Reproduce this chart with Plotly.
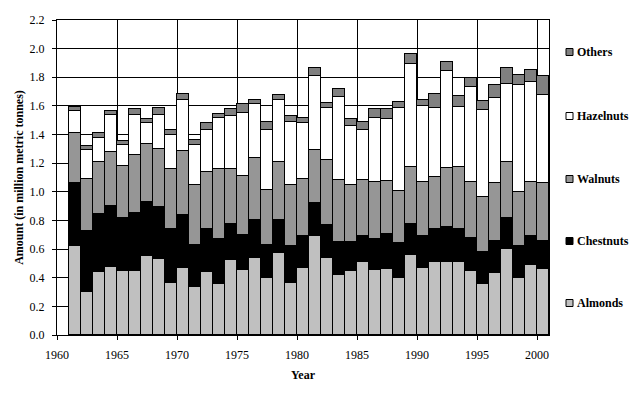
import plotly.graph_objects as go

years = list(range(1961, 2001))

almonds = [0.620, 0.298, 0.438, 0.473, 0.445, 0.445, 0.550, 0.529, 0.361, 0.466,
           0.333, 0.438, 0.354, 0.522, 0.452, 0.536, 0.396, 0.571, 0.361, 0.466,
           0.690, 0.536, 0.417, 0.445, 0.508, 0.452, 0.459, 0.396, 0.557, 0.466,
           0.508, 0.508, 0.508, 0.445, 0.354, 0.431, 0.599, 0.396, 0.487, 0.459]
chestnuts = [0.440, 0.427, 0.406, 0.427, 0.371, 0.406, 0.378, 0.364, 0.378, 0.371,
             0.294, 0.301, 0.315, 0.252, 0.245, 0.266, 0.231, 0.231, 0.259, 0.224,
             0.231, 0.231, 0.231, 0.203, 0.182, 0.217, 0.245, 0.245, 0.217, 0.224,
             0.231, 0.245, 0.231, 0.231, 0.224, 0.224, 0.217, 0.224, 0.203, 0.196]
walnuts = [0.348, 0.368, 0.361, 0.375, 0.361, 0.403, 0.403, 0.403, 0.417, 0.445,
           0.424, 0.396, 0.487, 0.382, 0.417, 0.431, 0.389, 0.403, 0.431, 0.403,
           0.368, 0.452, 0.438, 0.403, 0.396, 0.403, 0.375, 0.368, 0.396, 0.382,
           0.368, 0.410, 0.431, 0.396, 0.389, 0.410, 0.389, 0.382, 0.382, 0.410]
hazelnuts = [0.153, 0.196, 0.168, 0.265, 0.147, 0.286, 0.153, 0.244, 0.238, 0.356,
             0.273, 0.294, 0.363, 0.377, 0.440, 0.377, 0.413, 0.433, 0.440, 0.391,
             0.517, 0.363, 0.573, 0.406, 0.343, 0.447, 0.433, 0.573, 0.720, 0.524,
             0.475, 0.678, 0.419, 0.657, 0.601, 0.587, 0.545, 0.741, 0.692, 0.608]
others = [0.031, 0.030, 0.035, 0.021, 0.028, 0.035, 0.028, 0.042, 0.035, 0.042,
          0.035, 0.055, 0.028, 0.042, 0.056, 0.028, 0.062, 0.035, 0.042, 0.035,
          0.056, 0.035, 0.056, 0.055, 0.062, 0.056, 0.063, 0.042, 0.070, 0.042,
          0.098, 0.063, 0.077, 0.063, 0.063, 0.091, 0.112, 0.070, 0.084, 0.133]

series_names = ["Almonds", "Chestnuts", "Walnuts", "Hazelnuts", "Others"]
series_values = [almonds, chestnuts, walnuts, hazelnuts, others]
series_colors = ["#C0C0C0", "#000000", "#969696", "#FFFFFF", "#808080"]

x_ticks = [1960, 1965, 1970, 1975, 1980, 1985, 1990, 1995, 2000]
y_ticks = [round(0.2 * i, 1) for i in range(12)]

FONT = "Liberation Serif, Times New Roman, serif"

fig = go.Figure()
xpos = [y + 0.5 for y in years]
for name, vals, col in zip(series_names, series_values, series_colors):
    fig.add_trace(go.Bar(
        x=xpos, y=vals, name=name, width=1.0,
        marker=dict(color=col, line=dict(color="black", width=1)),
        showlegend=False,
    ))

# The page body has an 8px default margin; the figure is sized to fit the window.
OFF = 8
W, H = 642 - OFF, 394 - OFF
L, R, T, B = 57 - OFF, 93, 20 - OFF, 59
pw, ph = W - L - R, H - T - B

def px_to_paper_x(px):
    return (px - OFF - L) / pw

def px_to_paper_y(py):
    return (H - B - (py - OFF)) / ph

# Manual legend (right side), top to bottom: Others ... Almonds
leg_y_px = {"Others": 52, "Hazelnuts": 116, "Walnuts": 179, "Chestnuts": 241, "Almonds": 303}
for name, col in zip(series_names, series_colors):
    cy = leg_y_px[name]
    fig.add_shape(type="rect", xref="paper", yref="paper",
                  x0=px_to_paper_x(566), x1=px_to_paper_x(573),
                  y0=px_to_paper_y(cy + 3.5), y1=px_to_paper_y(cy - 3.5),
                  fillcolor=col, line=dict(color="black", width=1))
    fig.add_annotation(xref="paper", yref="paper",
                       x=px_to_paper_x(575), y=px_to_paper_y(cy),
                       xanchor="left", yanchor="middle", showarrow=False,
                       text="<b>" + name + "</b>",
                       font=dict(family=FONT, size=12, color="black"))

fig.update_layout(
    width=W, height=H,
    margin=dict(l=L, r=R, t=T, b=B, pad=0, autoexpand=False),
    barmode="stack", bargap=0,
    plot_bgcolor="white", paper_bgcolor="white",
    font=dict(family=FONT, size=12, color="black"),
    showlegend=False,
)
fig.update_xaxes(
    range=[1960, 2001], tickvals=x_ticks, ticktext=[str(v) for v in x_ticks],
    ticks="outside", ticklen=4, tickcolor="black", tickwidth=1,
    showline=True, linecolor="black", linewidth=1, mirror=True,
    showgrid=True, gridcolor="black", gridwidth=1, zeroline=False,
    ticklabelstandoff=5, automargin=False,
    tickfont=dict(family=FONT, size=12),
    title=dict(text="<b>Year</b>", font=dict(family=FONT, size=12), standoff=9),
)
fig.update_yaxes(
    range=[0, 2.2], tickvals=y_ticks, ticktext=["%.1f" % v for v in y_ticks],
    ticks="outside", ticklen=4, tickcolor="black", tickwidth=1,
    showline=True, linecolor="black", linewidth=1, mirror=True,
    showgrid=True, gridcolor="black", gridwidth=1, zeroline=False,
    ticklabelstandoff=5, automargin=False,
    tickfont=dict(family=FONT, size=12),
    title=dict(text="<b>Amount (in million metric tonnes)</b>", font=dict(family=FONT, size=12), standoff=3),
)

fig.write_html("out.html")
